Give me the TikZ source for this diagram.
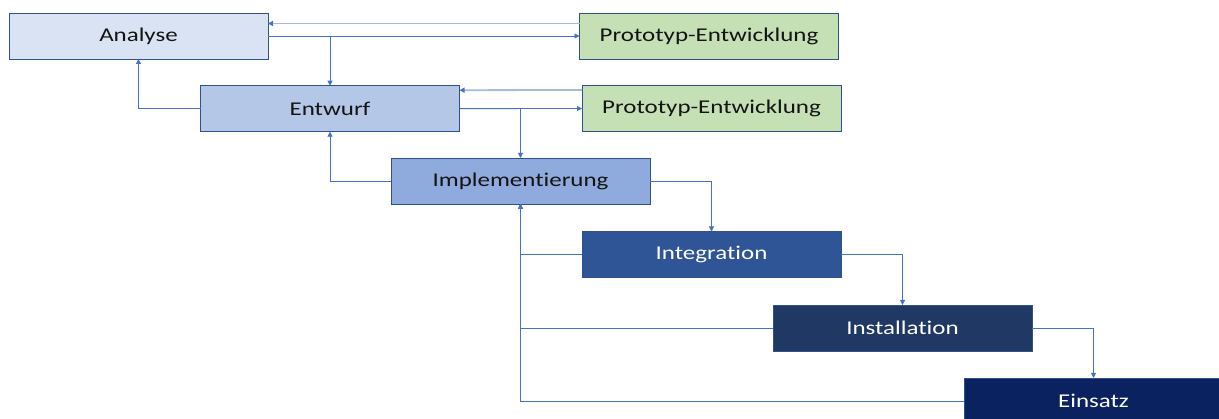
\documentclass[tikz,border=0pt]{standalone}
\usepackage{fontspec}
\setmainfont{Carlito}[Ligatures={NoCommon}]
\usetikzlibrary{arrows.meta}

\definecolor{flowblue}{HTML}{4472C4}
\definecolor{backline}{HTML}{A9BADB}
\definecolor{boxborder}{HTML}{2F528F}
\definecolor{fillA}{HTML}{DAE3F3}
\definecolor{fillB}{HTML}{B4C7E7}
\definecolor{fillC}{HTML}{8FAADC}
\definecolor{fillD}{HTML}{2F5597}
\definecolor{fillE}{HTML}{203864}
\definecolor{fillF}{HTML}{0B2260}
\definecolor{fillP}{HTML}{C5E0B4}
\definecolor{textdark}{HTML}{141414}

% wide lettering of the phase labels
\newcommand{\widetext}[1]{\scalebox{1.28}[1]{#1}}

\tikzset{
  phase/.style={draw=boxborder, line width=0.8pt, minimum width=259pt,
    minimum height=46pt, inner sep=0pt, outer sep=0pt,
    font=\fontsize{19.5}{23}\selectfont, text=textdark},
  darkphase/.style={phase, text=white},
  flow/.style={draw=flowblue, line width=0.8pt,
    -{Triangle[length=5pt,width=5pt,color=flowblue]}},
  backflow/.style={draw=backline, line width=1.8pt,
    -{Triangle[length=5pt,width=5pt,color=flowblue]}}
}

\begin{document}
\begin{tikzpicture}[x=1pt,y=-1pt]
  \useasboundingbox (0,0) rectangle (1219,419);
  \clip (0,0) rectangle (1219,419);
  \fill[white] (0,0) rectangle (1219,419);

  % phases
  \node[phase, fill=fillA] (ana) at (138.5,36) {\widetext{Analyse}};
  \node[phase, fill=fillP] (pro1) at (709,36) {\widetext{Prototyp-Entwicklung}};
  \node[phase, fill=fillB] (ent) at (330,108.7) {\widetext{Entwurf}};
  \node[phase, fill=fillP] (pro2) at (711.5,108.5) {\widetext{Prototyp-Entwicklung}};
  \node[phase, fill=fillC] (imp) at (520.5,181) {\widetext{Implementierung}};
  \node[darkphase, fill=fillD] (int) at (711.5,254.5) {\widetext{Integration}};
  \node[darkphase, fill=fillE] (ins) at (902.5,328) {\widetext{Installation}};
  \node[darkphase, fill=fillF] (ein) at (1093.5,401) {\widetext{Einsatz}};

  % prototype loops
  \draw[backflow] ([yshift=12.5pt]pro1.west) -- ([yshift=12.5pt]ana.east);
  \draw[flow] (ana.east) -- (pro1.west);
  \draw[backflow] ([yshift=18.5pt]pro2.west) -- ([yshift=18.5pt]ent.east);
  \draw[flow] (ent.east) -- (pro2.west);

  % forward steps
  \draw[flow] (ana.east) -| (ent.north);
  \draw[flow] (ent.east) -| (imp.north);
  \draw[flow] (imp.east) -| (int.north);
  \draw[flow] (int.east) -| (ins.north);
  \draw[flow] (ins.east) -| (ein.north);

  % returns
  \draw[flow] (ent.west) -| (ana.south);
  \draw[flow] (imp.west) -| (ent.south);
  \draw[flow] (int.west) -| (imp.south);
  \draw[flow] (ins.west) -| (imp.south);
  \draw[flow] (ein.west) -| (imp.south);
\end{tikzpicture}
\end{document}
